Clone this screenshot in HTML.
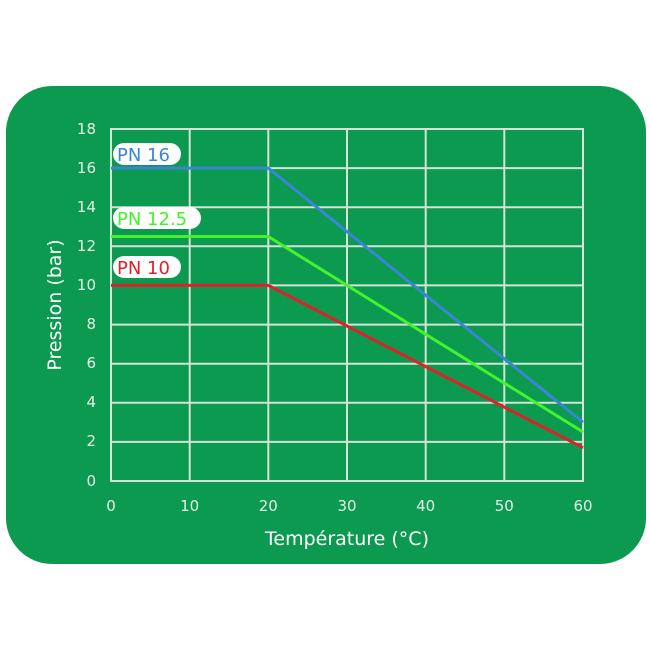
<!DOCTYPE html>
<html><head><style>
body{margin:0;background:#fff;}
svg{display:block;font-family:"DejaVu Sans","Liberation Sans",sans-serif;}
</style></head><body>
<svg width="650" height="650" viewBox="0 0 650 650">
<rect x="6" y="86" width="640" height="478" rx="46" fill="#0b9a50"/>
<g stroke="#d6e2d6" stroke-width="2" fill="none">
<rect x="111" y="129" width="472" height="352"/>
<line x1="189.7" y1="129" x2="189.7" y2="481"/>
<line x1="268.3" y1="129" x2="268.3" y2="481"/>
<line x1="347" y1="129" x2="347" y2="481"/>
<line x1="425.7" y1="129" x2="425.7" y2="481"/>
<line x1="504.3" y1="129" x2="504.3" y2="481"/>
<line x1="111" y1="168.1" x2="583" y2="168.1"/>
<line x1="111" y1="207.2" x2="583" y2="207.2"/>
<line x1="111" y1="246.3" x2="583" y2="246.3"/>
<line x1="111" y1="285.4" x2="583" y2="285.4"/>
<line x1="111" y1="324.6" x2="583" y2="324.6"/>
<line x1="111" y1="363.7" x2="583" y2="363.7"/>
<line x1="111" y1="402.8" x2="583" y2="402.8"/>
<line x1="111" y1="441.9" x2="583" y2="441.9"/>
</g>
<g fill="none" stroke-width="3">
<polyline points="111,168.1 268.3,168.1 583,422.3" stroke="#3a86d6"/>
<polyline points="111,236.5 268.3,236.5 583,432" stroke="#44f22e"/>
<polyline points="111,285.4 268.3,285.4 583,447.7" stroke="#e0202a"/>
</g>
<g fill="#fff">
<rect x="113" y="143" width="68" height="22" rx="11"/>
<rect x="113" y="207" width="88" height="22" rx="11"/>
<rect x="113" y="256" width="68" height="22" rx="11"/>
</g>
<g font-size="18">
<text x="117" y="161" fill="#3a86d6">PN 16</text>
<text x="117" y="225" fill="#44f22e">PN 12.5</text>
<text x="117" y="274" fill="#e0202a">PN 10</text>
</g>
<g fill="#e6efe6" font-size="15" text-anchor="end">
<text x="96" y="134">18</text><text x="96" y="173">16</text><text x="96" y="212">14</text>
<text x="96" y="251">12</text><text x="96" y="290">10</text><text x="96" y="329">8</text>
<text x="96" y="368">6</text><text x="96" y="407">4</text><text x="96" y="446">2</text>
<text x="96" y="486">0</text>
</g>
<g fill="#e6efe6" font-size="15" text-anchor="middle">
<text x="111" y="511">0</text><text x="189.7" y="511">10</text><text x="268.3" y="511">20</text>
<text x="347" y="511">30</text><text x="425.7" y="511">40</text><text x="504.3" y="511">50</text>
<text x="583" y="511">60</text>
</g>
<text x="347" y="545" fill="#fff" font-size="19" text-anchor="middle">Température (°C)</text>
<text transform="translate(61,305) rotate(-90)" fill="#fff" font-size="19" text-anchor="middle">Pression (bar)</text>
</svg>
</body></html>
